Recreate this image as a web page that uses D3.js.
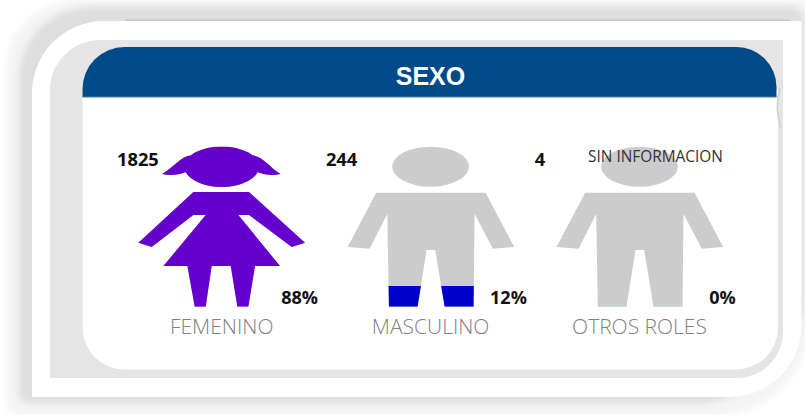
<!DOCTYPE html>
<html><head><meta charset="utf-8">
<style>html,body{margin:0;padding:0;background:#fff;overflow:hidden}svg{display:block}</style>
<script src="https://cdn.jsdelivr.net/npm/d3@7"></script></head>
<body><svg id="c" width="805" height="415"></svg>
<script>
const title = "SEXO";
const categories = ["FEMENINO","MASCULINO","OTROS ROLES"];
const counts = [1825,244,4];
const percents = ["88%","12%","0%"];
const fillLevels = [100,13,0.4];
const fillColors = ["#6600cc","#0000cc","#a8e4dc"];
const note = "SIN INFORMACION";

const girlPath = "M-112 -420 A112 61 0 1 1 112 -420 A112 61 0 1 1 -112 -420 Z M-100 -408 C-125 -395 -150 -392 -179 -398 C-140 -420 -125 -452 -87 -455 Z M87 -455 C125 -452 140 -420 177 -398 C150 -392 125 -395 100 -408 Z M-85 -344 L82 -344 L250 -192 L210 -179 L82 -275 L50 -275 L175 -122 L100 -122 L80 0 L47 0 L27 -122 L-30 -122 L-48 0 L-81 0 L-103 -122 L-175 -122 L-48 -275 L-85 -275 L-210 -179 L-250 -192 Z";
const boyPath = "M-115 -420 A115 60 0 1 1 115 -420 A115 60 0 1 1 -115 -420 Z M-163 -342 L165 -342 L251 -179 L187 -174 L132 -278 L129 0 L42 0 L14 -170 L-12 -170 L-39 0 L-125 0 L-130 -278 L-183 -174 L-249 -179 Z";
const shapes = [girlPath, boyPath, boyPath];

const svg = d3.select("#c");
const defs = svg.append("defs");
defs.append("filter").attr("id","soft").attr("x","-10%").attr("y","-10%").attr("width","120%").attr("height","120%")
  .append("feGaussianBlur").attr("stdDeviation",3);

function box(x,y,w,h,tl,tr,br,bl){
  const p=d3.path();
  p.moveTo(x+tl,y); p.lineTo(x+w-tr,y);
  if(tr)p.arcTo(x+w,y,x+w,y+tr,tr);
  p.lineTo(x+w,y+h-br);
  if(br)p.arcTo(x+w,y+h,x+w-br,y+h,br);
  p.lineTo(x+bl,y+h);
  if(bl)p.arcTo(x,y+h,x,y+h-bl,bl);
  p.lineTo(x,y+tl);
  if(tl)p.arcTo(x,y,x+tl,y,tl);
  p.closePath();
  return p.toString();
}
const frame = svg.append("g");
frame.append("path").attr("d",box(6,0,805,415,70,0,95,14)).attr("fill","#f4f4f4").attr("filter","url(#soft)");
frame.append("path").attr("d",box(19,7,785,396,72,12,110,10)).attr("fill","#dedede").attr("filter","url(#soft)");
frame.append("rect").attr("x",125).attr("y",19.5).attr("width",665).attr("height",2).attr("fill","#c8c8c8");
frame.append("path").attr("d",box(32,21,769.5,376,72,0,72,0)).attr("fill","#fff");
frame.append("path").attr("d",box(50,40,733,338,50,0,46,0)).attr("fill","#e5e5e5");
frame.append("path").attr("d",box(82.5,90,695.5,279.5,0,0,42,42)).attr("fill","#fff");
frame.append("path").attr("d","M780 88 Q774 108 781 128").attr("fill","none").attr("stroke","#cfcfcf").attr("stroke-width",1.5);
frame.append("path").attr("d",box(82.5,47,694,50,42,40,0,0)).attr("fill","#004b87");
frame.append("rect").attr("x",82.5).attr("y",96.5).attr("width",694).attr("height",1).attr("fill","#3f7fae");

svg.append("text").text(title).attr("x",430.5).attr("y",85).attr("text-anchor","middle")
  .attr("font-family","'Liberation Sans',Arial,sans-serif").attr("font-weight",700).attr("font-size",25).attr("fill","#fff");

const x = d3.scalePoint().domain(categories).range([221.7,639.5]);
const baseY = 306.7;
const unit = 1/3;
const level = d3.scaleLinear().domain([0,100]).range([0,480]);

const icons = svg.selectAll("g.icon").data(categories).join("g").attr("class","icon");
icons.each(function(c,i){
  const g=d3.select(this);
  const t=`translate(${x(c)},${baseY}) scale(${unit})`;
  const h=level(fillLevels[i]);
  defs.append("clipPath").attr("id","clip"+i).append("rect")
    .attr("x",-300).attr("y",-h).attr("width",600).attr("height",h);
  const s=g.append("g").attr("transform",t);
  s.append("path").attr("d",shapes[i]).attr("fill","#cccccc");
  s.append("path").attr("d",shapes[i]).attr("fill",fillColors[i]).attr("clip-path",`url(#clip${i})`);
  const f="'Open Sans',sans-serif";
  g.append("text").text(counts[i]).attr("x",x(c)-104.7).attr("y",166)
    .attr("font-family",f).attr("font-weight",700).attr("font-size",18.3).attr("fill","#111");
  g.append("text").text(percents[i]).attr("x",x(c)+96.3).attr("y",304).attr("text-anchor","end")
    .attr("font-family",f).attr("font-weight",700).attr("font-size",18).attr("fill","#111");
  g.append("text").text(c).attr("x",x(c)).attr("y",334).attr("text-anchor","middle")
    .attr("font-family",f).attr("font-weight",300).attr("font-size",21).attr("fill","#808080");
});
svg.append("text").text(note).attr("x",655.5).attr("y",162).attr("text-anchor","middle")
  .attr("font-family","'Open Sans',sans-serif").attr("font-size",15.4).attr("fill","#333");
</script></body></html>
